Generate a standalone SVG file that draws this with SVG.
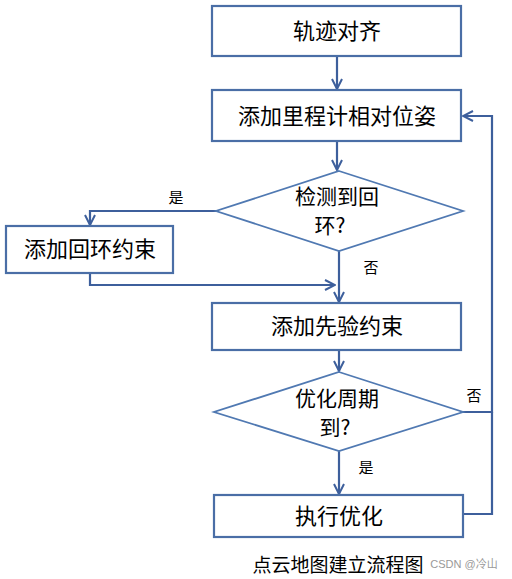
<svg xmlns="http://www.w3.org/2000/svg" width="512" height="579" viewBox="0 0 512 579">
<style>
.box{fill:#fff;stroke:#4a6ea6;stroke-width:2.2}
.dia{fill:#fff;stroke:#5079b2;stroke-width:1.8}
.t{font-family:"Noto Sans CJK SC","Liberation Sans",sans-serif;font-size:22px;fill:#000;text-anchor:middle}
.d{font-family:"Noto Sans CJK SC","Liberation Sans",sans-serif;font-size:21px;fill:#000;text-anchor:middle}
.l{font-family:"Noto Sans CJK SC","Liberation Sans",sans-serif;font-size:15px;fill:#000;text-anchor:middle}
.c{fill:none;stroke:#3d5f9c;stroke-width:2.2}
</style>
<defs>
<marker id="a" viewBox="0 0 12 12" refX="11" refY="6" markerWidth="12" markerHeight="12" markerUnits="userSpaceOnUse" orient="auto">
<path d="M1,1 L11,6 L1,11" fill="none" stroke="#3d5f9c" stroke-width="2"/>
</marker>
</defs>
<rect width="512" height="579" fill="#fff"/>
<g id="connectors">
<path class="c" d="M337,57 V89" marker-end="url(#a)"/>
<path class="c" d="M337,142 V170" marker-end="url(#a)"/>
<path class="c" d="M216,211 H90 V225" marker-end="url(#a)"/>
<path class="c" d="M90,273 V285 H335" marker-end="url(#a)"/>
<path class="c" d="M339,251 V302" marker-end="url(#a)"/>
<path class="c" d="M339,350 V371" marker-end="url(#a)"/>
<path class="c" d="M339,451 V494" marker-end="url(#a)"/>
<path class="c" d="M463,412 H492 V116 H463" marker-end="url(#a)"/>
<path class="c" d="M463,514 H492 V412"/>
<text class="l" x="176" y="203">是</text>
<text class="l" x="371" y="273">否</text>
<text class="l" x="474" y="401">否</text>
<text class="l" x="366" y="473">是</text>
</g>
<g id="n1"><rect class="box" x="212" y="6" width="249" height="50"/><text class="t" x="337" y="39">轨迹对齐</text></g>
<g id="n2"><rect class="box" x="212" y="90" width="249" height="51"/><text class="t" x="337" y="124">添加里程计相对位姿</text></g>
<g id="n3"><polygon class="dia" points="339,171 463,211 339,251 216,211"/><text class="d" x="337" y="204">检测到回</text><text class="d" x="330" y="233">环?</text></g>
<g id="n4"><rect class="box" x="6" y="226" width="167" height="47"/><text class="t" x="90" y="257">添加回环约束</text></g>
<g id="n5"><rect class="box" x="212" y="303" width="249" height="47"/><text class="t" x="337" y="334">添加先验约束</text></g>
<g id="n6"><polygon class="dia" points="339,372 463,412 339,451 214,412"/><text class="d" x="337" y="406">优化周期</text><text class="d" x="335" y="435">到?</text></g>
<g id="n7"><rect class="box" x="214" y="495" width="249" height="42"/><text class="t" x="339" y="524">执行优化</text></g>
<text x="338" y="572" font-family="Noto Sans CJK SC,sans-serif" font-size="19" text-anchor="middle" fill="#000">点云地图建立流程图</text>
<text x="464" y="568" font-family="Liberation Sans,Noto Sans CJK SC,sans-serif" font-size="11" text-anchor="middle" fill="#999">CSDN @冷山</text>
</svg>
